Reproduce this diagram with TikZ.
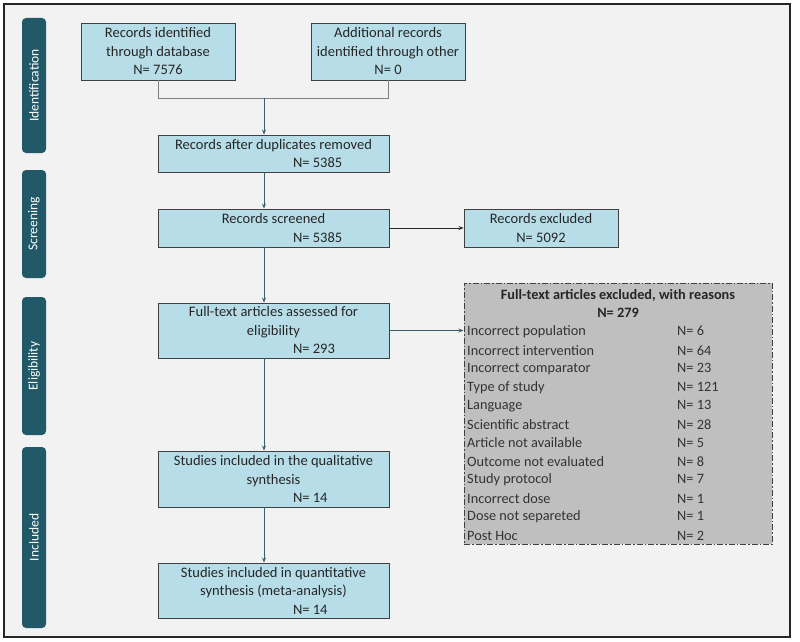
\documentclass[tikz,border=0pt]{standalone}
\usepackage{fontspec}
\setmainfont{Carlito}
\usetikzlibrary{arrows.meta, positioning, calc}
\usepackage{xcolor}
\definecolor{prbg}{HTML}{F2F2F2}
\definecolor{prbox}{HTML}{B7DEE8}
\definecolor{prframe}{HTML}{404040}
\definecolor{prteal}{HTML}{215968}
\definecolor{prline}{HTML}{3A5F6C}
\definecolor{prgrey}{HTML}{BFBFBF}

% shifted count line inside a centred box
\newcommand{\nshift}[1]{\hspace*{39pt}\makebox[0pt][l]{#1}}

\begin{document}
\begin{tikzpicture}[
    x=1pt, y=-1pt,
    phase/.style={
        rectangle,
        rounded corners=4pt,
        rotate=90,
        minimum height=24pt,
        fill=prteal,
        text=white,
        inner sep=0pt,
        font=\fontsize{13.5}{15}\selectfont
    },
    record/.style={
        rectangle,
        draw=prframe,
        line width=0.9pt,
        fill=prbox,
        align=center,
        inner sep=0pt,
        text=black!85,
        font=\fontsize{14.5}{18.5}\selectfont
    },
    reason/.style={
        anchor=west,
        inner sep=0pt,
        text=black!80,
        font=\fontsize{14.3}{16}\selectfont
    },
    arrow/.style={
        ->,
        >={Stealth[length=5pt, width=4pt]},
        line width=0.9pt,
        prline
    },
    mergeline/.style={
        line width=0.9pt,
        gray
    }
]
\useasboundingbox (0,0) rectangle (800,642);

% Frame
\node[rectangle, draw=black!85, line width=1.6pt, fill=prbg, minimum width=786pt,
      minimum height=633pt, inner sep=0pt] (frame) at (397,320.5) {};

% Phases
\node[phase, minimum width=135pt] (pid) at (34,85.5) {Identification};
\node[phase, minimum width=108pt] (psc) at (34,224) {Screening};
\node[phase, minimum width=138pt] (pel) at (34,366) {Eligibility};
\node[phase, minimum width=181pt] (pin) at (34,537.5) {Included};

% Records
\node[record, minimum width=154pt, minimum height=57pt] (db) at (158,51.5)
    {Records identified\\through database\\N= 7576};
\node[record, minimum width=154pt, minimum height=57pt] (other) at (388,51.5)
    {Additional records\\identified through other\\N= 0};
\node[record, minimum width=231pt, minimum height=37pt] (dup) at (273.5,153.5)
    {Records after duplicates removed\\\nshift{N= 5385}};
\node[record, minimum width=231pt, minimum height=38pt] (screened) at (273.5,228)
    {Records screened\\\nshift{N= 5385}};
\node[record, minimum width=154pt, minimum height=38pt] (excl) at (541,228)
    {Records excluded\\N= 5092};
\node[record, minimum width=231pt, minimum height=55pt] (full) at (273.5,330.5)
    {Full-text articles assessed for\\eligibility\\\nshift{N= 293}};
\node[record, minimum width=231pt, minimum height=56pt] (qual) at (273.5,479)
    {Studies included in the qualitative\\synthesis\\\nshift{N= 14}};
\node[record, minimum width=231pt, minimum height=55pt] (quant) at (273.5,590.5)
    {Studies included in quantitative\\synthesis (meta-analysis)\\\nshift{N= 14}};

% Exclusion reasons
\node[rectangle, draw=prframe, line width=1pt, fill=prgrey,
      dash pattern=on 6pt off 2pt on 1.5pt off 2pt,
      minimum width=308pt, minimum height=261pt, inner sep=0pt] (reasons) at (618,413.5) {};
\node[font=\fontsize{14.3}{16}\selectfont\bfseries, text=black!85, inner sep=0pt] (rhead) at (618,295)
    {Full-text articles excluded, with reasons};
\node[font=\fontsize{14.3}{16}\selectfont\bfseries, text=black!85, inner sep=0pt] (rtotal) at (618,313) {N= 279};
\node[reason] (r1) at (467,332) {\makebox[210pt][l]{Incorrect population}N= 6};
\node[reason] (r2) at (467,350.5) {\makebox[210pt][l]{Incorrect intervention}N= 64};
\node[reason] (r3) at (467,369) {\makebox[210pt][l]{Incorrect comparator}N= 23};
\node[reason] (r4) at (467,387.5) {\makebox[210pt][l]{Type of study}N= 121};
\node[reason] (r5) at (467,406) {\makebox[210pt][l]{Language}N= 13};
\node[reason] (r6) at (467,424.5) {\makebox[210pt][l]{Scientific abstract}N= 28};
\node[reason] (r7) at (467,443) {\makebox[210pt][l]{Article not available}N= 5};
\node[reason] (r8) at (467,461.5) {\makebox[210pt][l]{Outcome not evaluated}N= 8};
\node[reason] (r9) at (467,480) {\makebox[210pt][l]{Study protocol}N= 7};
\node[reason] (r10) at (467,498.5) {\makebox[210pt][l]{Incorrect dose}N= 1};
\node[reason] (r11) at (467,517) {\makebox[210pt][l]{Dose not separeted}N= 1};
\node[reason] (r12) at (467,535.5) {\makebox[210pt][l]{Post Hoc}N= 2};

% Connectors
\coordinate (merge) at (264,98);
\draw[mergeline] (db.south) |- (merge);
\draw[mergeline] (other.south) |- (merge);
\draw[arrow] (merge) -- (dup.north -| merge);
\draw[arrow] (dup.south -| merge) -- (screened.north -| merge);
\draw[arrow, black!85] (screened.east) -- (excl.west);
\draw[arrow] (screened.south -| merge) -- (full.north -| merge);
\draw[arrow] (full.east) -- (full.east -| reasons.west);
\draw[arrow] (full.south -| merge) -- (qual.north -| merge);
\draw[arrow] (qual.south -| merge) -- (quant.north -| merge);

\end{tikzpicture}
\end{document}
